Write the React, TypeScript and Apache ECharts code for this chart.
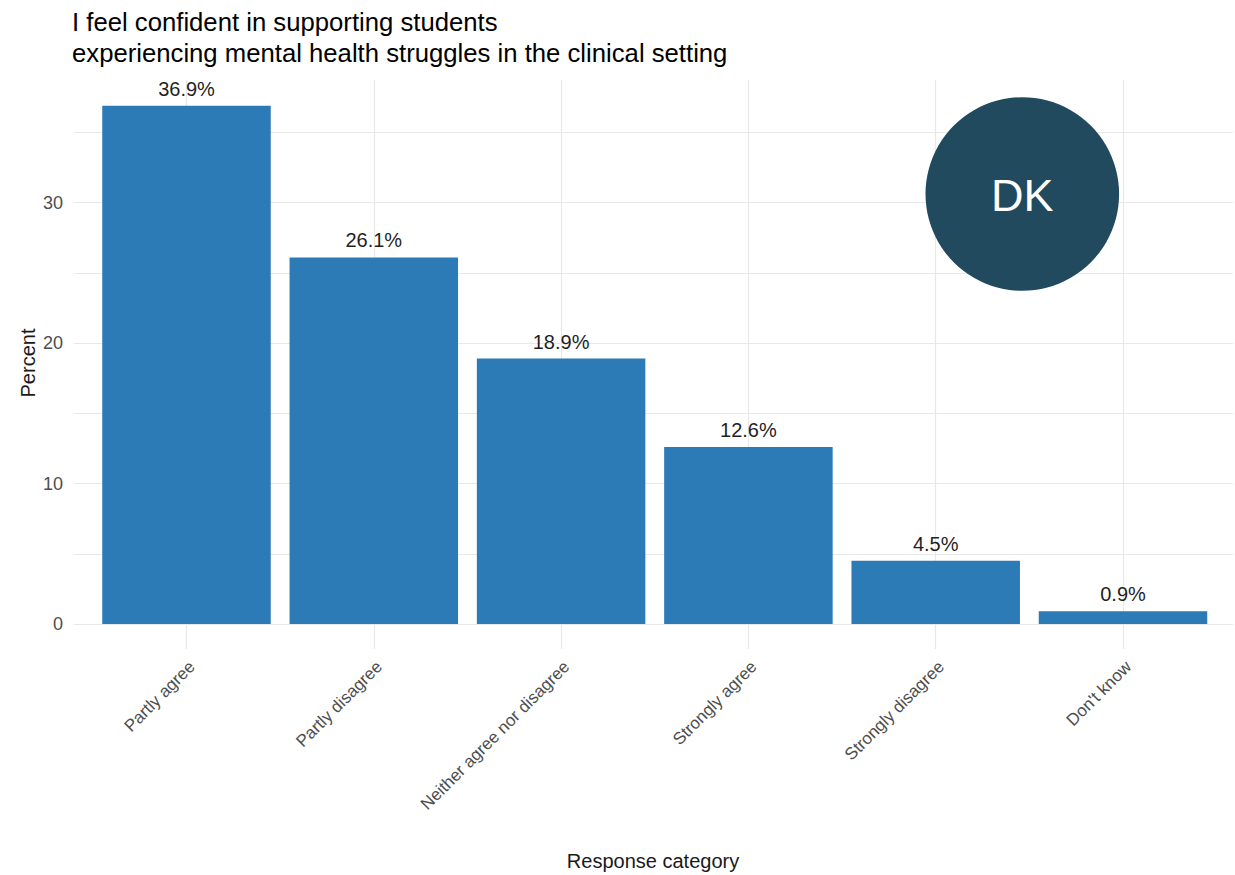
import React, { useEffect, useRef } from 'react';
import * as echarts from 'echarts';

const categories = [
  'Partly agree',
  'Partly disagree',
  'Neither agree nor disagree',
  'Strongly agree',
  'Strongly disagree',
  "Don't know",
];
const percents = [36.9, 26.1, 18.9, 12.6, 4.5, 0.9];
const yTickLabels = [0, 10, 20, 30];
const titleLines = [
  'I feel confident in supporting students',
  'experiencing mental health struggles in the clinical setting',
];
const xAxisTitle = 'Response category';
const yAxisTitle = 'Percent';
const badgeText = 'DK';

const FONT = '"Liberation Sans", Arial, Helvetica, sans-serif';
const Y_MIN = -1.78;
const Y_MAX = 40;
const PANEL_TOP_VALUE = 38.75;

export default function App() {
  const ref = useRef<HTMLDivElement>(null);
  useEffect(() => {
    if (!ref.current) return;
    const chart = echarts.init(ref.current, null, { renderer: 'svg' });
    const gridTop = 62.3;
    const option: any = {
      animation: false,
      backgroundColor: '#ffffff',
      title: {
        text: titleLines.join('\n'),
        left: 72,
        top: 6,
        padding: 0,
        textStyle: {
          fontFamily: FONT,
          fontSize: 25.7,
          lineHeight: 31.5,
          color: '#000000',
          fontWeight: 'normal',
        },
      },
      grid: [
        { left: 74, right: 2, top: gridTop, bottom: 875 - 624 },
        { left: 92.85, right: 18.35, top: gridTop, bottom: 226 },
        { left: 92.85 + 5.5, right: 18.35 - 5.5, top: gridTop, bottom: 226 },
      ],
      xAxis: [
        { gridIndex: 0, type: 'value', min: 0, max: 1, show: false },
        {
          gridIndex: 1,
          type: 'category',
          data: categories,
          axisLine: { show: false },
          axisTick: { show: false },
          axisLabel: { show: false },
          splitLine: { show: false },
        },
        {
          gridIndex: 2,
          type: 'category',
          data: categories,
          axisLine: { show: false },
          axisTick: { show: false },
          splitLine: { show: false },
          axisLabel: {
            rotate: 45,
            margin: 15,
            fontSize: 17,
            color: '#4d4d4d',
            fontFamily: FONT,
            interval: 0,
          },
        },
      ],
      yAxis: [
        {
          gridIndex: 0,
          type: 'value',
          min: 0,
          max: Y_MAX,
          interval: 5,
          axisLine: { show: false },
          axisTick: { show: false },
          splitLine: {
            show: true,
            showMaxLine: false,
            lineStyle: { color: '#e8e8e8', width: 1.2 },
          },
          axisLabel: {
            margin: 11,
            fontSize: 18,
            color: '#4d4d4d',
            fontFamily: FONT,
            formatter: (v: number) => (yTickLabels.includes(v) ? String(v) : ''),
          },
        },
        { gridIndex: 1, type: 'value', min: Y_MIN, max: Y_MAX, show: false },
        { gridIndex: 2, type: 'value', min: Y_MIN, max: Y_MAX, show: false },
      ],
      series: [
        {
          type: 'bar',
          xAxisIndex: 1,
          yAxisIndex: 1,
          data: percents,
          barWidth: 168.5,
          z: 2,
          itemStyle: { color: '#2C7BB6' },
          label: {
            show: true,
            position: 'top',
            distance: 7,
            fontSize: 20,
            color: '#1f1f1f',
            fontFamily: FONT,
            formatter: (p: any) => Number(p.value).toFixed(1) + '%',
          },
          markLine: {
            silent: true,
            z: 1,
            symbol: ['none', 'none'],
            label: { show: false },
            lineStyle: { color: '#e8e8e8', width: 1.2, type: 'solid' },
            emphasis: { disabled: true },
            data: categories.map((c) => [
              { coord: [c, PANEL_TOP_VALUE] },
              { coord: [c, Y_MIN] },
            ]),
          },
        },
      ],
      graphic: [
        {
          type: 'circle',
          shape: { cx: 1022.3, cy: 194, r: 96.8 },
          style: { fill: '#214A5F' },
          z: 10,
        },
        {
          type: 'text',
          x: 1022.3,
          y: 195,
          z: 11,
          style: {
            text: badgeText,
            fontSize: 45,
            fontFamily: FONT,
            fill: '#ffffff',
            align: 'center',
            verticalAlign: 'middle',
          },
        },
        {
          type: 'text',
          x: 27.5,
          y: 363,
          rotation: Math.PI / 2,
          style: {
            text: yAxisTitle,
            fontSize: 20,
            fontFamily: FONT,
            fill: '#1a1a1a',
            align: 'center',
            verticalAlign: 'middle',
          },
        },
        {
          type: 'text',
          x: 653,
          y: 861,
          style: {
            text: xAxisTitle,
            fontSize: 20,
            fontFamily: FONT,
            fill: '#1a1a1a',
            align: 'center',
            verticalAlign: 'middle',
          },
        },
      ],
    };
    chart.setOption(option);
    return () => chart.dispose();
  }, []);
  return (
    <div
      ref={ref}
      style={{ position: 'fixed', left: 0, top: 0, width: 1235, height: 875 }}
    />
  );
}
